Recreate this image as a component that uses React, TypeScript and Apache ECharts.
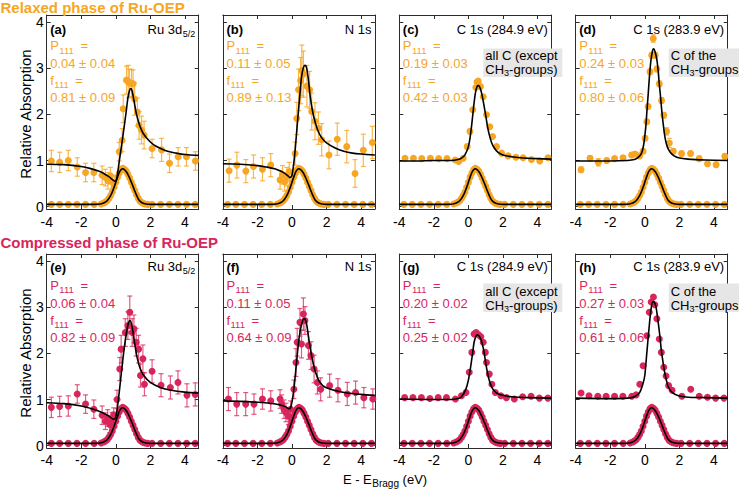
import React, { useEffect, useRef } from 'react';
import * as echarts from 'echarts';

const ORANGE = '#F6A623';
const CRIMSON = '#D8265C';
const ERR_COLORS = ['rgba(246,166,35,0.8)', 'rgba(216,38,92,0.75)'];
const FONT = "'Liberation Sans', Arial, Helvetica, sans-serif";

// ---- data: upper spectra [x, y, error] ----
const dataA = [[-3.73,0.99,0.23],[-3.25,0.96,0.22],[-2.75,1.0,0.22],[-2.23,0.86,0.2],[-1.75,0.74,0.2],[-1.27,0.74,0.2],[-0.79,0.68,0.2],[-0.6,0.63,0.18],[-0.45,0.56,0.18],[-0.31,0.67,0.18],[-0.18,0.53,0.15],[0.2,1.19,0.2],[0.37,1.44,0.25],[0.43,2.12,0.3],[0.62,2.74,0.3],[0.72,2.71,0.35],[0.79,2.68,0.3],[0.91,2.67,0.3],[1.0,2.66,0.3],[1.09,2.33,0.35],[1.25,2.05,0.3],[1.35,1.76,0.3],[1.49,1.66,0.3],[1.64,1.55,0.3],[2.1,1.26,0.2],[2.65,1.23,0.25],[3.11,0.94,0.2],[3.61,1.08,0.2],[4.09,1.08,0.2],[4.61,0.99,0.2]];
const dataB = [[-3.64,0.78,0.25],[-3.19,0.9,0.28],[-2.67,0.77,0.25],[-2.23,0.87,0.25],[-1.71,0.81,0.25],[-1.23,0.9,0.25],[-0.69,0.58,0.2],[-0.55,0.69,0.2],[-0.43,0.54,0.2],[-0.3,0.65,0.2],[-0.16,0.76,0.2],[0.18,1.15,0.25],[0.28,1.91,0.35],[0.38,2.53,0.45],[0.5,2.73,0.5],[0.57,2.95,0.55],[0.66,2.87,0.5],[0.86,2.61,0.45],[1.02,2.53,0.4],[1.14,2.06,0.4],[1.33,1.85,0.4],[1.53,1.7,0.35],[1.72,1.45,0.35],[2.14,1.12,0.3],[2.62,1.46,0.35],[3.17,1.3,0.35],[3.65,0.72,0.3],[4.13,1.22,0.35],[4.65,1.39,0.35]];
const dataC = [[-3.67,1.05,0],[-3.18,1.05,0],[-2.7,1.04,0],[-2.2,1.05,0],[-1.72,1.04,0],[-1.24,1.04,0],[-0.76,1.01,0],[-0.56,0.98,0],[-0.3,1.05,0],[-0.07,1.3,0],[0.09,1.63,0],[0.25,2.1,0],[0.43,2.58,0],[0.5,2.7,0],[0.57,2.72,0],[0.7,2.6,0],[0.86,2.38,0],[1.05,1.99,0],[1.24,1.73,0],[1.4,1.52,0],[1.63,1.3,0],[1.92,1.16,0],[2.3,1.1,0],[2.75,1.07,0],[3.17,1.06,0],[3.65,1.02,0],[4.13,0.99,0],[4.61,1.06,0]];
const dataD = [[-3.69,0.8,0.06],[-3.17,1.05,0.05],[-2.69,0.96,0.08],[-2.2,1.0,0.05],[-1.75,1.04,0.04],[-1.26,1.06,0.04],[-0.76,1.12,0.05],[-0.57,1.14,0.05],[-0.3,1.1,0.05],[-0.1,1.2,0.05],[0.02,1.48,0.05],[0.12,1.84,0.05],[0.19,2.17,0.05],[0.3,2.92,0.06],[0.4,3.28,0.06],[0.49,3.64,0.08],[0.6,3.28,0.06],[0.7,2.98,0.06],[0.84,2.66,0.06],[0.97,2.3,0.06],[1.1,1.98,0.06],[1.26,1.63,0.08],[1.42,1.38,0.1],[1.65,1.2,0.05],[2.13,1.15,0.05],[2.65,1.15,0.05],[3.15,1.04,0.05],[3.63,0.93,0.05],[4.13,0.91,0.05],[4.63,1.09,0.05]];
const dataE = [[-3.73,0.83,0.22],[-3.25,0.85,0.22],[-2.75,0.86,0.22],[-2.23,1.12,0.2],[-1.75,0.9,0.2],[-1.27,0.79,0.2],[-0.79,0.66,0.2],[-0.6,0.53,0.18],[-0.47,0.6,0.18],[-0.35,0.46,0.18],[-0.21,0.57,0.15],[-0.12,0.67,0.15],[0.07,1.0,0.2],[0.23,1.66,0.25],[0.31,2.09,0.3],[0.55,2.45,0.3],[0.7,2.6,0.3],[0.81,2.89,0.35],[0.95,2.45,0.3],[1.05,2.53,0.3],[1.18,2.24,0.3],[1.32,2.09,0.3],[1.43,1.52,0.25],[1.57,1.88,0.3],[1.66,1.33,0.25],[2.1,1.61,0.25],[2.62,1.31,0.25],[3.16,1.26,0.25],[3.6,1.37,0.25],[4.12,1.09,0.25],[4.6,1.11,0.25]];
const dataF = [[-3.68,1.01,0.25],[-3.2,0.9,0.25],[-2.68,0.9,0.25],[-2.2,0.9,0.22],[-1.71,1.01,0.22],[-1.23,0.97,0.22],[-0.69,1.01,0.2],[-0.6,0.9,0.2],[-0.46,0.79,0.2],[-0.35,0.72,0.2],[-0.21,0.64,0.18],[-0.08,0.79,0.18],[0.11,1.22,0.2],[0.23,1.8,0.3],[0.3,2.24,0.3],[0.46,2.67,0.3],[0.55,2.2,0.3],[0.66,2.85,0.35],[0.75,2.71,0.3],[0.95,2.17,0.3],[1.1,1.95,0.3],[1.28,1.66,0.3],[1.47,1.37,0.25],[1.66,1.22,0.25],[2.18,1.3,0.25],[2.66,1.2,0.25],[3.2,1.12,0.25],[3.68,1.15,0.25],[4.16,1.04,0.22],[4.68,1.01,0.22]];
const dataG = [[-3.69,1.04,0],[-3.21,1.04,0],[-2.72,1.04,0],[-2.23,1.02,0],[-1.75,1.04,0],[-1.27,1.04,0],[-0.75,1.01,0],[-0.4,1.08,0],[-0.14,1.15,0],[0.05,1.59,0],[0.2,2.02,0],[0.33,2.42,0],[0.45,2.45,0],[0.59,2.4,0],[0.72,2.36,0],[0.86,2.24,0],[0.98,2.02,0],[1.05,1.8,0],[1.21,1.55,0],[1.36,1.33,0],[1.56,1.15,0],[1.88,1.08,0],[2.2,1.04,0],[2.66,1.01,0],[3.14,1.06,0],[3.63,1.07,0],[4.11,1.03,0],[4.6,1.03,0]];
const dataH = [[-3.69,1.14,0],[-3.23,1.08,0],[-2.72,1.07,0],[-2.24,1.07,0],[-1.75,1.07,0],[-1.27,1.07,0],[-0.75,1.07,0],[-0.5,1.1,0],[-0.29,1.33,0],[-0.1,1.73,0],[0.12,2.38,0],[0.26,2.89,0],[0.37,3.11,0],[0.5,3.22,0],[0.58,3.05,0],[0.7,2.75,0],[0.84,2.31,0],[0.96,2.02,0],[1.1,1.7,0],[1.23,1.51,0],[1.38,1.3,0],[1.58,1.2,0],[2.15,1.07,0],[2.66,1.22,0],[3.15,1.07,0],[3.63,1.05,0],[4.1,1.03,0],[4.58,1.03,0]];

// ---- fitted curves of the upper spectra [x, y] ----
const fitA = [[-4,0.92],[-3,0.91],[-2,0.87],[-1.5,0.83],[-1,0.77],[-0.7,0.72],[-0.4,0.65],[-0.2,0.59],[-0.05,0.55],[0.05,0.6],[0.2,0.98],[0.4,1.5],[0.6,2.05],[0.7,2.35],[0.8,2.52],[0.88,2.56],[0.95,2.5],[1.05,2.3],[1.2,2.0],[1.4,1.74],[1.6,1.58],[1.9,1.44],[2.2,1.34],[2.6,1.26],[3.0,1.2],[3.5,1.16],[4.0,1.13],[4.8,1.11]];
const fitB = [[-4,0.93],[-3,0.92],[-2,0.89],[-1.5,0.86],[-1,0.82],[-0.6,0.76],[-0.3,0.69],[-0.12,0.63],[0,0.68],[0.15,1.1],[0.3,1.75],[0.45,2.4],[0.55,2.8],[0.65,3.0],[0.75,3.06],[0.85,3.0],[0.95,2.75],[1.05,2.4],[1.2,2.05],[1.35,1.82],[1.5,1.65],[1.7,1.5],[2.0,1.38],[2.5,1.27],[3.0,1.2],[3.5,1.16],[4.0,1.14],[4.8,1.12]];
const fitC = [[-4,0.99],[-3,0.99],[-2,1.0],[-1,1.0],[-0.6,1.02],[-0.4,1.05],[-0.2,1.12],[0,1.3],[0.1,1.5],[0.2,1.8],[0.3,2.15],[0.4,2.45],[0.5,2.6],[0.6,2.62],[0.7,2.55],[0.8,2.4],[0.9,2.2],[1.0,1.98],[1.1,1.75],[1.2,1.57],[1.35,1.38],[1.5,1.27],[1.7,1.18],[2.0,1.12],[2.5,1.08],[3.0,1.06],[4.0,1.04],[4.8,1.03]];
const fitD = [[-4,0.99],[-2,0.99],[-1,1.0],[-0.6,1.02],[-0.4,1.06],[-0.2,1.15],[-0.07,1.33],[0.05,1.7],[0.12,2.05],[0.2,2.45],[0.26,2.77],[0.35,3.15],[0.45,3.38],[0.52,3.42],[0.6,3.35],[0.7,3.18],[0.78,2.92],[0.84,2.65],[0.92,2.35],[0.99,2.05],[1.08,1.75],[1.18,1.48],[1.3,1.3],[1.47,1.18],[1.7,1.1],[1.95,1.06],[2.5,1.03],[3.5,1.01],[4.8,1.0]];
const fitE = [[-4,0.93],[-3,0.91],[-2,0.86],[-1.3,0.79],[-0.8,0.72],[-0.4,0.64],[-0.12,0.57],[0,0.62],[0.15,1.0],[0.3,1.5],[0.45,2.0],[0.6,2.4],[0.72,2.64],[0.82,2.71],[0.92,2.62],[1.02,2.4],[1.12,2.15],[1.24,1.9],[1.4,1.68],[1.62,1.52],[2.0,1.37],[2.58,1.26],[3.2,1.2],[4.0,1.16],[4.8,1.14]];
const fitF = [[-4,0.97],[-3,0.96],[-2,0.94],[-1.3,0.92],[-0.8,0.89],[-0.4,0.85],[-0.17,0.8],[-0.05,0.86],[0.1,1.2],[0.25,1.75],[0.4,2.3],[0.55,2.62],[0.7,2.75],[0.82,2.68],[0.92,2.45],[1.02,2.2],[1.15,1.92],[1.3,1.67],[1.45,1.5],[1.6,1.38],[1.9,1.27],[2.55,1.19],[3.2,1.14],[4.0,1.11],[4.8,1.09]];
const fitG = [[-4,1.01],[-2,1.0],[-1,1.0],[-0.6,1.02],[-0.4,1.06],[-0.15,1.22],[0,1.42],[0.14,1.73],[0.25,2.02],[0.33,2.24],[0.43,2.36],[0.53,2.4],[0.63,2.37],[0.72,2.31],[0.82,2.18],[0.91,2.02],[1.0,1.8],[1.1,1.59],[1.22,1.4],[1.39,1.24],[1.6,1.15],[1.97,1.09],[2.5,1.06],[3.5,1.04],[4.8,1.03]];
const fitH = [[-4,1.03],[-2,1.02],[-1,1.03],[-0.6,1.06],[-0.3,1.15],[-0.1,1.35],[0.0,1.52],[0.12,2.02],[0.26,2.6],[0.36,2.95],[0.47,3.12],[0.56,3.1],[0.65,3.0],[0.72,2.83],[0.8,2.6],[0.88,2.35],[0.95,2.09],[1.05,1.82],[1.15,1.59],[1.26,1.4],[1.38,1.26],[1.6,1.15],[1.95,1.08],[2.5,1.05],[3.5,1.04],[4.8,1.03]];

// ---- lower (reference) spectrum and its fit [x, y] ----
const lowerPts = [[-3.73,0.05],[-3.25,0.05],[-2.75,0.05],[-2.25,0.05],[-1.75,0.05],[-1.25,0.05],[-0.85,0.06],[-0.7,0.08],[-0.6,0.1],[-0.5,0.13],[-0.4,0.18],[-0.3,0.24],[-0.2,0.32],[-0.1,0.42],[0,0.53],[0.1,0.64],[0.2,0.73],[0.3,0.8],[0.4,0.83],[0.5,0.81],[0.6,0.77],[0.7,0.7],[0.8,0.62],[0.9,0.53],[1.0,0.44],[1.1,0.35],[1.2,0.26],[1.3,0.18],[1.4,0.12],[1.5,0.09],[1.6,0.07],[1.7,0.06],[1.85,0.05],[2.1,0.05],[2.6,0.05],[3.1,0.05],[3.6,0.05],[4.1,0.05],[4.6,0.05]];
const lowerFit = [[-4,0.05],[-2,0.05],[-1.2,0.05],[-0.9,0.06],[-0.7,0.08],[-0.5,0.13],[-0.3,0.24],[-0.15,0.37],[0,0.53],[0.1,0.64],[0.2,0.74],[0.3,0.8],[0.4,0.82],[0.5,0.8],[0.6,0.76],[0.7,0.7],[0.8,0.62],[0.9,0.53],[1.0,0.44],[1.1,0.34],[1.2,0.25],[1.3,0.17],[1.4,0.12],[1.55,0.08],[1.75,0.06],[2.0,0.05],[4.8,0.05]];

// ---- texts ----
const panelLabels = ['(a)', '(b)', '(c)', '(d)', '(e)', '(f)', '(g)', '(h)'];
const edgeNames = ['Ru 3d', 'N 1s', 'C 1s (284.9 eV)', 'C 1s (283.9 eV)', 'Ru 3d', 'N 1s', 'C 1s (284.9 eV)', 'C 1s (283.9 eV)'];
const edgeSubs = ['5/2', '', '', '', '5/2', '', '', ''];
const pValues = ['0.04 ± 0.04', '0.11 ± 0.05', '0.19 ± 0.03', '0.24 ± 0.03', '0.06 ± 0.04', '0.11 ± 0.05', '0.20 ± 0.02', '0.27 ± 0.03'];
const fValues = ['0.81 ± 0.09', '0.89 ± 0.13', '0.42 ± 0.03', '0.80 ± 0.06', '0.82 ± 0.09', '0.64 ± 0.09', '0.25 ± 0.02', '0.61 ± 0.06'];
const boxLine1 = ['', '', 'all C (except', 'C of the', '', '', 'all C (except', 'C of the'];
const boxLine2End = ['', '', '-groups)', '-groups', '', '', '-groups)', '-groups'];
const rowTitles = ['Relaxed phase of Ru-OEP', 'Compressed phase of Ru-OEP'];

const panelData = [dataA, dataB, dataC, dataD, dataE, dataF, dataG, dataH];
const panelFits = [fitA, fitB, fitC, fitD, fitE, fitF, fitG, fitH];

// ---- layout ----
const COLS = [46.7, 222.9, 399.3, 575.7];
const ROWS = [15, 254];
const W = 152;
const H = 194;
const ROW_TXT = [
  { label: 14.5, P: 30.8, v1: 48.7, f: 65.3, v2: 82.5, boxTop: 33.5, boxBot: 62, l1: 40.5, l2: 54 },
  { label: 13, P: 31.3, v1: 49.7, f: 66.3, v2: 83, boxTop: 29.5, boxBot: 58, l1: 37.5, l2: 51 },
];

let measureCtx: CanvasRenderingContext2D | null = null;
function fontStr(size: number, bold?: boolean) {
  return `${bold ? 'bold ' : ''}${size}px ${FONT}`;
}
function measure(t: string, size: number, bold?: boolean) {
  if (!measureCtx) measureCtx = document.createElement('canvas').getContext('2d');
  if (!measureCtx) return t.length * size * 0.55;
  measureCtx.font = fontStr(size, bold);
  return measureCtx.measureText(t).width;
}
type Part = { t: string; size?: number; dy?: number; dx?: number; bold?: boolean };
function runs(x: number, y: number, parts: Part[], color: string, align: 'left' | 'right' | 'center' = 'left', z = 101) {
  const ws = parts.map((p) => measure(p.t, p.size || 13, p.bold) + (p.dx || 0));
  const total = ws.reduce((a, b) => a + b, 0);
  let cx = align === 'left' ? x : align === 'right' ? x - total : x - total / 2;
  return parts.map((p, i) => {
    const el = {
      type: 'text',
      x: cx + (p.dx || 0),
      y: y + (p.dy || 0),
      z,
      silent: true,
      style: {
        text: p.t,
        fill: color,
        font: fontStr(p.size || 13, p.bold),
        textAlign: 'left',
        textVerticalAlign: 'middle',
      },
    };
    cx += ws[i];
    return el;
  });
}

export default function App() {
  const ref = useRef<HTMLDivElement>(null);
  useEffect(() => {
    if (!ref.current) return;
    const chart = echarts.init(ref.current, undefined, { renderer: 'svg' });
    const grids: any[] = [];
    const xAxes: any[] = [];
    const yAxes: any[] = [];
    const series: any[] = [];
    const graphics: any[] = [];

    const axisCommon = {
      axisLine: { show: true, onZero: false, lineStyle: { color: '#2b2b2b', width: 1 } },
      axisTick: { show: true, inside: true, length: 4, lineStyle: { color: '#2b2b2b', width: 1 } },
      splitLine: { show: false },
    };

    for (let i = 0; i < 8; i++) {
      const row = i < 4 ? 0 : 1;
      const col = i % 4;
      const left = COLS[col];
      const top = ROWS[row];
      const color = row === 0 ? ORANGE : CRIMSON;
      const errColor = ERR_COLORS[row];
      grids.push({ left, top, width: W, height: H, show: false });
      xAxes.push({
        type: 'value', gridIndex: i, position: 'bottom', min: -4, max: 4.8, interval: 2, ...axisCommon,
        axisLabel: { show: true, showMaxLabel: false, color: '#000', fontSize: 14, fontFamily: FONT, margin: row === 0 ? 6 : 5 },
      });
      xAxes.push({
        type: 'value', gridIndex: i, position: 'top', min: -4, max: 4.8, interval: 2, ...axisCommon,
        axisLabel: { show: false },
      });
      yAxes.push({
        type: 'value', gridIndex: i, position: 'left', min: -0.05, max: 4.15, splitNumber: 4, minInterval: 1, maxInterval: 1, ...axisCommon,
        axisLabel: { show: col === 0, showMinLabel: false, showMaxLabel: false, color: '#000', fontSize: 14, fontFamily: FONT, margin: 3 },
      });
      yAxes.push({
        type: 'value', gridIndex: i, position: 'right', min: -0.05, max: 4.15, splitNumber: 4, minInterval: 1, maxInterval: 1, ...axisCommon,
        axisLabel: { show: false },
      });
      const xi = 2 * i;
      const yi = 2 * i;
      const pts = panelData[i];
      const errs = pts.filter((d) => d[2] > 0).map((d) => [d[0], d[1] - d[2], d[1] + d[2]]);
      if (errs.length) {
        series.push({
          type: 'custom', xAxisIndex: xi, yAxisIndex: yi, data: errs, silent: true, z: 2,
          encode: { x: 0, y: [1, 2] },
          renderItem: (_p: any, api: any) => {
            const x = api.value(0);
            const a = api.coord([x, api.value(1)]);
            const b = api.coord([x, api.value(2)]);
            const st = { stroke: errColor, lineWidth: 1.2 };
            return {
              type: 'group',
              children: [
                { type: 'line', shape: { x1: a[0], y1: a[1], x2: b[0], y2: b[1] }, style: st },
                { type: 'line', shape: { x1: a[0] - 2.5, y1: a[1], x2: a[0] + 2.5, y2: a[1] }, style: st },
                { type: 'line', shape: { x1: b[0] - 2.5, y1: b[1], x2: b[0] + 2.5, y2: b[1] }, style: st },
              ],
            };
          },
        });
      }
      series.push({
        type: 'scatter', xAxisIndex: xi, yAxisIndex: yi, silent: true, z: 3,
        data: pts.map((d) => [d[0], d[1]]), symbolSize: 7, itemStyle: { color, opacity: 1 },
      });
      series.push({
        type: 'scatter', xAxisIndex: xi, yAxisIndex: yi, silent: true, z: 3,
        data: lowerPts, symbolSize: 7, itemStyle: { color, opacity: 1 },
      });
      series.push({
        type: 'line', xAxisIndex: xi, yAxisIndex: yi, silent: true, z: 5,
        data: panelFits[i], showSymbol: false, symbol: 'none', smooth: 0.3,
        lineStyle: { color: '#000', width: 1.6 },
      });
      series.push({
        type: 'line', xAxisIndex: xi, yAxisIndex: yi, silent: true, z: 5,
        data: lowerFit, showSymbol: false, symbol: 'none', smooth: 0.3,
        lineStyle: { color: '#000', width: 1.6 },
      });

      // annotations
      const rt = ROW_TXT[row];
      const tx = left + 3.5;
      graphics.push(...runs(tx, top + rt.label, [{ t: panelLabels[i], bold: true }], '#000'));
      const edgeParts: Part[] = [{ t: edgeNames[i] }];
      if (edgeSubs[i]) edgeParts.push({ t: edgeSubs[i], size: 9, dy: 4.5, dx: 0.5 });
      graphics.push(...runs(left + W - 3.5, top + rt.label - 0.5, edgeParts, '#000', 'right'));
      graphics.push(...runs(tx, top + rt.P, [{ t: 'P' }, { t: '111', size: 9.5, dy: 4.5, dx: 0.5 }, { t: ' =', dx: 3 }], color));
      graphics.push(...runs(tx, top + rt.v1, [{ t: pValues[i] }], color));
      graphics.push(...runs(tx, top + rt.f, [{ t: 'f' }, { t: '111', size: 9.5, dy: 4.5, dx: 0.5 }, { t: ' =', dx: 3 }], color));
      graphics.push(...runs(tx, top + rt.v2, [{ t: fValues[i] }], color));
      if (boxLine1[i]) {
        const bx = col === 2 ? left + 84 : left + 93;
        const bw = col === 2 ? 79 : 80;
        graphics.push({
          type: 'rect', z: 100, silent: true,
          shape: { x: bx, y: top + rt.boxTop, width: bw, height: rt.boxBot - rt.boxTop },
          style: { fill: '#E6E6E6' },
        });
        graphics.push(...runs(bx + 2, top + rt.l1, [{ t: boxLine1[i] }], '#000'));
        graphics.push(...runs(bx + 2, top + rt.l2, [{ t: 'CH' }, { t: '3', size: 9, dy: 4 }, { t: boxLine2End[i] }], '#000'));
      }
    }

    // row titles
    graphics.push(...runs(0.5, 7, [{ t: rowTitles[0], size: 15, bold: true }], ORANGE));
    graphics.push(...runs(0.5, 242, [{ t: rowTitles[1], size: 15, bold: true }], CRIMSON));
    // y-axis titles
    [ROWS[0], ROWS[1]].forEach((top) => {
      graphics.push({
        type: 'text', x: 25, y: top + H / 2 + 2, rotation: Math.PI / 2, z: 101, silent: true,
        style: { text: 'Relative Absorption', fill: '#000', font: fontStr(15), textAlign: 'center', textVerticalAlign: 'middle' },
      });
    });
    // x-axis title
    graphics.push(...runs(385, 479, [{ t: 'E - E' }, { t: 'Bragg', size: 10, dy: 4.5, dx: 0.5 }, { t: ' (eV)' }], '#000', 'center'));

    chart.setOption({
      animation: false,
      grid: grids,
      xAxis: xAxes,
      yAxis: yAxes,
      series,
      graphic: { elements: graphics },
    });
    return () => chart.dispose();
  }, []);
  return <div ref={ref} style={{ position: 'absolute', left: 0, top: 0, width: 739, height: 492, background: '#fff' }} />;
}
